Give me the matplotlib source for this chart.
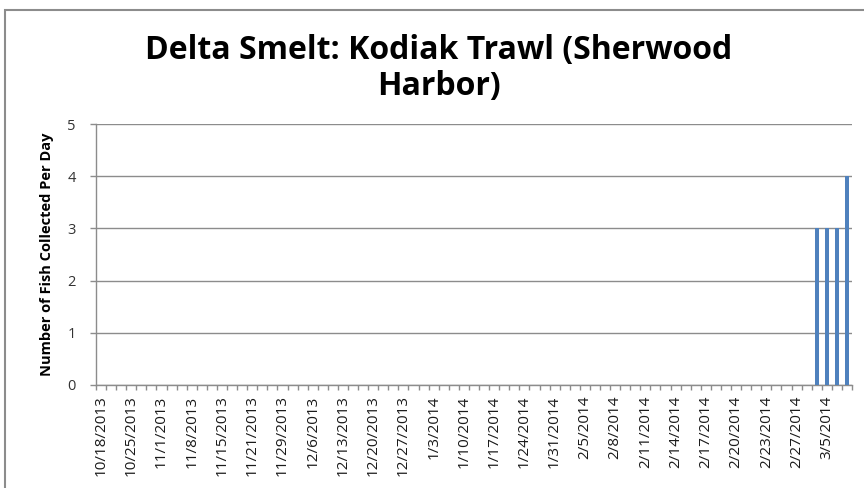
import numpy as np
import matplotlib
matplotlib.use('Agg')
import matplotlib.pyplot as plt
from matplotlib.patches import Rectangle

# sampling days (only every third one is labelled on the axis)
tick_labels = ['10/18/2013', '10/25/2013', '11/1/2013', '11/8/2013', '11/15/2013',
               '11/21/2013', '11/29/2013', '12/6/2013', '12/13/2013', '12/20/2013',
               '12/27/2013', '1/3/2014', '1/10/2014', '1/17/2014', '1/24/2014',
               '1/31/2014', '2/5/2014', '2/8/2014', '2/11/2014', '2/14/2014',
               '2/17/2014', '2/20/2014', '2/23/2014', '2/27/2014', '3/5/2014']
label_step = 3

fish_per_day = [0, 0, 0, 0, 0, 0, 0, 0, 0, 0,
                0, 0, 0, 0, 0, 0, 0, 0, 0, 0,
                0, 0, 0, 0, 0, 0, 0, 0, 0, 0,
                0, 0, 0, 0, 0, 0, 0, 0, 0, 0,
                0, 0, 0, 0, 0, 0, 0, 0, 0, 0,
                0, 0, 0, 0, 0, 0, 0, 0, 0, 0,
                0, 0, 0, 0, 0, 0, 0, 0, 0, 0,
                0, 3, 3, 3, 4]

plt.rcParams['font.family'] = ['Open Sans', 'DejaVu Sans']

W, H = 864, 488
fig = plt.figure(figsize=(W / 100, H / 100), dpi=100)
fig.patch.set_facecolor('white')

# chart border
fig.add_artist(Rectangle((5 / W, -0.05), 1.2, 1 - 10 / H + 0.05,
                         transform=fig.transFigure, fill=False,
                         edgecolor='#8c8c8c', linewidth=1.5))

ax = fig.add_axes([96 / W, (H - 385) / H, (852 - 96) / W, (385 - 124) / H])

n = len(fish_per_day)
X = np.arange(n)
ax.bar(X, fish_per_day, width=0.4, color='#4F81BD', zorder=3)

ax.set_xlim(-0.5, n - 0.5)
ax.set_ylim(0, 5)
ax.set_yticks(np.arange(0, 6, 1))
ax.grid(axis='y', color='#8c8c8c', linewidth=1, zorder=0)

ax.set_xticks(X[::label_step][:len(tick_labels)])
ax.set_xticklabels(tick_labels, rotation=90, fontsize=11, color='#1a1a1a')
ax.tick_params(axis='x', length=0, pad=7.5)
ax.set_xticks(np.arange(-0.5, n, 1), minor=True)
ax.tick_params(axis='x', which='minor', length=3.5, color='#8c8c8c', width=1)
ax.tick_params(axis='y', length=4.5, color='#8c8c8c', width=1, labelsize=10.5,
               labelcolor='#333333', pad=10)

for s in ['top', 'right']:
    ax.spines[s].set_visible(False)
for s in ['left', 'bottom']:
    ax.spines[s].set_color('#8c8c8c')
    ax.spines[s].set_linewidth(1)

ax.set_ylabel('Number of Fish Collected Per Day', fontsize=10.5, fontweight='bold')
ax.yaxis.set_label_coords(-0.056, 0.5)

fig.text(439 / W, 1 - 68 / H, 'Delta Smelt: Kodiak Trawl (Sherwood\nHarbor)',
         ha='center', va='center', fontsize=23, fontweight='bold',
         linespacing=1.12)

plt.savefig('out.png', dpi=100)
